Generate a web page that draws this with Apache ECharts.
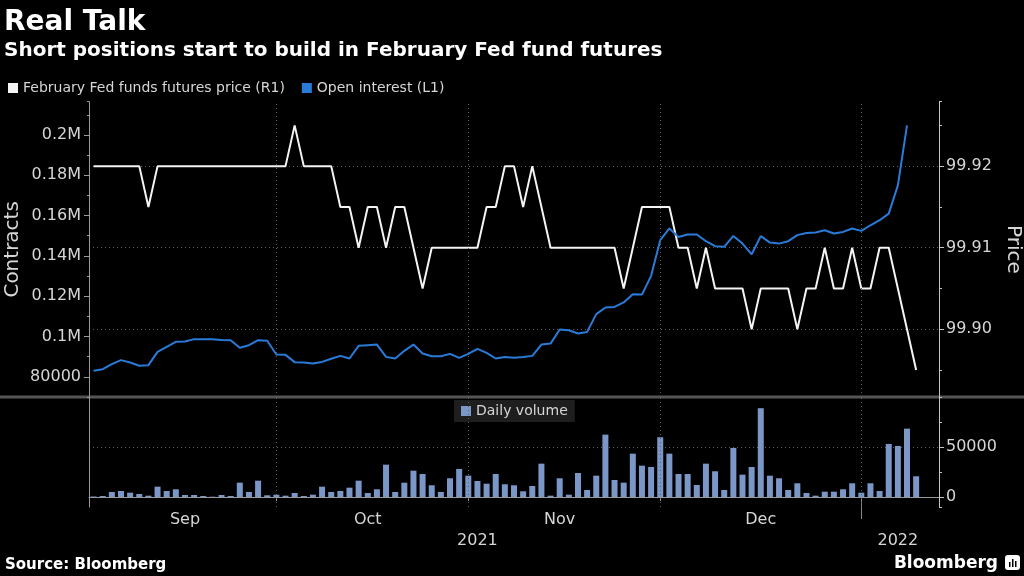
<!DOCTYPE html>
<html>
<head>
<meta charset="utf-8">
<script src="https://cdn.jsdelivr.net/npm/echarts@6/dist/echarts.min.js"></script>
<style>
html,body{margin:0;padding:0;background:#000;}
#chart{width:1024px;height:576px;}
</style>
</head>
<body>
<div id="chart"></div>
<script>
// ---- trading days (categories) ----
const sepDays = [2,3,7,8,9,10,13,14,15,16,17,20,21,22,23,24,27,28,29,30];
const octDays = [1,4,5,6,7,8,11,12,13,14,15,18,19,20,21,22,25,26,27,28,29];
const novDays = [1,2,3,4,5,8,9,10,11,12,15,16,17,18,19,22,23,24,26,29,30];
const decDays = [1,2,3,6,7,8,9,10,13,14,15,16,17,20,21,22,23,27,28,29,30,31];
const janDays = [3,4,5,6,7,10,11,12,13];

// ---- series values ----
const priceValues = [
  99.92,99.92,99.92,99.92,99.92,99.92,99.915,99.92,99.92,99.92,
  99.92,99.92,99.92,99.92,99.92,99.92,99.92,99.92,99.92,99.92,
  99.92,99.92,99.925,99.92,99.92,99.92,99.92,99.915,99.915,99.91,
  99.915,99.915,99.91,99.915,99.915,99.91,99.905,99.91,99.91,99.91,
  99.91,99.91,99.91,99.915,99.915,99.92,99.92,99.915,99.92,99.915,
  99.91,99.91,99.91,99.91,99.91,99.91,99.91,99.91,99.905,99.91,
  99.915,99.915,99.915,99.915,99.91,99.91,99.905,99.91,99.905,99.905,
  99.905,99.905,99.90,99.905,99.905,99.905,99.905,99.90,99.905,99.905,
  99.91,99.905,99.905,99.91,99.905,99.905,99.91,99.91,99.905,99.90,
  99.895
];
const openInterest = [
  83000,83800,86300,88300,87100,85500,85800,92400,94900,97400,
  97500,98700,98700,98700,98300,98200,94400,95700,98200,97900,
  91100,90900,87300,87100,86600,87400,89000,90400,89100,95400,
  95700,96000,89900,89100,92900,96000,91600,90200,90200,91400,
  89400,91400,93900,91900,89100,89800,89500,89900,90400,96000,
  96500,103500,103100,101500,102300,111100,114400,114700,116900,121000,
  120800,130100,147800,153600,149400,150600,150600,147300,144800,144500,
  149900,146100,140800,149800,146600,146100,147300,150300,151400,151600,
  152700,151100,151900,153600,152400,155200,157700,161000,175000,204800
];
const dailyVolume = [
  500,1000,5000,6000,4300,3000,1300,10300,6000,7700,
  2000,2000,1000,300,2000,1000,14300,5000,16300,1700,
  2300,1300,4000,1000,2300,10300,5000,6000,9300,16300,
  4000,7700,32300,5000,14300,26300,23000,11700,5000,18700,
  28000,21300,16000,13300,23000,12700,11700,5700,11000,33300,
  1300,18700,2300,24000,7000,21300,62300,17000,14300,43300,
  31300,30000,59700,43300,23000,23000,12000,33300,25700,7000,
  49000,22300,30000,88700,21300,18700,7000,13700,4000,1300,
  5300,5300,7700,13700,4300,13700,6000,53000,51000,68300,
  20700
];

// ---- tick labels ----
const monthNames = ['Sep','Oct','Nov','Dec'];
const monthLabelAt = ['2021-09-17','2021-10-15','2021-11-15','2021-12-16'];
const monthStarts = ['2021-10-01','2021-11-01','2021-12-01','2022-01-03'];
const yearNames = ['2021','2022'];
const yearLabelAt = ['2021-11-02','2022-01-07'];
const yearBreak = ['2022-01-03'];

const seriesNames = ['February Fed funds futures price (R1)','Open interest (L1)','Daily volume'];

const pad = d => (d < 10 ? '0' : '') + d;
const categories = [].concat(
  sepDays.map(d => '2021-09-' + pad(d)),
  octDays.map(d => '2021-10-' + pad(d)),
  novDays.map(d => '2021-11-' + pad(d)),
  decDays.map(d => '2021-12-' + pad(d)),
  janDays.map(d => '2022-01-' + pad(d))
);

const FONT = 'DejaVu Sans';
const LBL = '#d6d6d6';
const AXIS = '#9a9a9a';
const GRIDC = '#5e5e5e';
const dotted = {type: [1, 3], color: GRIDC, width: 1};

const chart = echarts.init(document.getElementById('chart'));

const vLines = {
  silent: true, symbol: ['none','none'], label: {show: false},
  lineStyle: dotted, animation: false,
  data: monthStarts.map(d => ({xAxis: d}))
};

chart.setOption({
  backgroundColor: '#000',
  animation: false,
  textStyle: {fontFamily: FONT},
  title: [
    {text: 'Real Talk', left: 4, top: 9, padding: 0,
     textStyle: {color: '#fff', fontSize: 28, fontWeight: 'bold', fontFamily: FONT}},
    {text: 'Short positions start to build in February Fed fund futures', left: 4, top: 41, padding: 0,
     textStyle: {color: '#fff', fontSize: 20, fontWeight: 'bold', fontFamily: FONT}},
    {text: 'Source: Bloomberg', left: 5, top: 558, padding: 0,
     textStyle: {color: '#fff', fontSize: 15, fontWeight: 'bold', fontFamily: FONT}},
    {text: 'Bloomberg', right: 26, top: 555, padding: 0,
     textStyle: {color: '#fff', fontSize: 17, fontWeight: 'bold', fontFamily: FONT}}
  ],
  legend: [
    {data: [seriesNames[0], seriesNames[1]], left: 8, top: 81, padding: 0,
     icon: 'rect', itemWidth: 10, itemHeight: 10, itemGap: 17,
     textStyle: {color: LBL, fontSize: 14, fontFamily: FONT}},
    {data: [seriesNames[2]], left: 454, top: 400, padding: [4, 7, 4, 7],
     backgroundColor: '#1e1e1e',
     icon: 'rect', itemWidth: 10, itemHeight: 10,
     textStyle: {color: LBL, fontSize: 14, fontFamily: FONT}}
  ],
  grid: [
    {left: 89, right: 85, top: 101.7, height: 295.3, containLabel: false, outerBoundsMode: 'none'},
    {left: 89, right: 85, top: 397, height: 110, containLabel: false, outerBoundsMode: 'none'}
  ],
  xAxis: [
    {type: 'category', gridIndex: 0, data: categories, boundaryGap: true, show: false},
    {type: 'category', gridIndex: 1, data: categories, boundaryGap: true,
     axisLine: {lineStyle: {color: AXIS, width: 1}},
     axisTick: {show: true, alignWithLabel: true, length: 4, lineStyle: {color: AXIS},
                interval: (i, v) => monthStarts.indexOf(v) >= 0},
     axisLabel: {interval: (i, v) => monthLabelAt.indexOf(v) >= 0,
                 formatter: v => { const k = monthLabelAt.indexOf(v); return k >= 0 ? monthNames[k] : ''; },
                 color: LBL, fontSize: 16, fontFamily: FONT, margin: 5},
     splitLine: {show: false}},
    {type: 'category', gridIndex: 1, data: categories, boundaryGap: true, position: 'bottom', offset: 23,
     axisLine: {show: false},
     axisTick: {show: true, alignWithLabel: true, length: 22, lineStyle: {color: '#888'},
                interval: (i, v) => yearBreak.indexOf(v) >= 0},
     axisLabel: {interval: (i, v) => yearLabelAt.indexOf(v) >= 0,
                 formatter: v => { const k = yearLabelAt.indexOf(v); return k >= 0 ? yearNames[k] : ''; },
                 color: LBL, fontSize: 16, fontFamily: FONT, margin: 3},
     splitLine: {show: false}}
  ],
  yAxis: [
    {type: 'value', gridIndex: 0, position: 'left', min: 70000, max: 216500,
     minInterval: 20000, maxInterval: 20000,
     name: 'Contracts', nameLocation: 'middle', nameGap: 66, nameRotate: 90, nameMoveOverlap: false,
     nameTextStyle: {color: LBL, fontSize: 20, fontFamily: FONT},
     axisLine: {show: true, lineStyle: {color: AXIS}},
     axisTick: {show: true, length: 5, lineStyle: {color: AXIS}},
     axisLabel: {color: LBL, fontSize: 16, fontFamily: FONT, margin: 8, showMinLabel: false, showMaxLabel: false,
                 formatter: v => { v = Math.round(v); if (v % 20000 !== 0) return ''; return v >= 100000 ? (v / 1e6) + 'M' : String(v); }},
     splitLine: {show: false}},
    {type: 'value', gridIndex: 0, position: 'left', min: 70000, max: 216500, interval: 10000,
     axisLine: {show: false}, axisTick: {show: true, length: 2, lineStyle: {color: AXIS}},
     axisLabel: {show: false}, splitLine: {show: false}},
    {type: 'value', gridIndex: 0, position: 'right', min: 99.8917, max: 99.9279,
     minInterval: 0.01, maxInterval: 0.01,
     name: 'Price', nameLocation: 'middle', nameGap: 60, nameRotate: -90,
     nameTextStyle: {color: LBL, fontSize: 20, fontFamily: FONT},
     axisLine: {show: true, lineStyle: {color: '#c4c4c4'}},
     axisTick: {show: true, length: 5, lineStyle: {color: '#c4c4c4'}},
     axisLabel: {color: LBL, fontSize: 16, fontFamily: FONT, margin: 7, showMinLabel: false, showMaxLabel: false,
                 formatter: v => v.toFixed(2)},
     splitLine: {show: true, showMinLine: false, showMaxLine: false, lineStyle: dotted}},
    {type: 'value', gridIndex: 0, position: 'right', min: 99.8917, max: 99.9279,
     minInterval: 0.005, maxInterval: 0.005,
     axisLine: {show: false}, axisTick: {show: true, length: 3, lineStyle: {color: '#c4c4c4'}},
     axisLabel: {show: false}, splitLine: {show: false}},
    {type: 'value', gridIndex: 1, position: 'right', min: -10000, max: 99900,
     minInterval: 50000, maxInterval: 50000,
     axisLine: {show: true, lineStyle: {color: '#c4c4c4'}},
     axisTick: {show: true, length: 5, lineStyle: {color: '#c4c4c4'}},
     axisLabel: {color: LBL, fontSize: 16, fontFamily: FONT, margin: 7, showMinLabel: false, showMaxLabel: false,
                 formatter: v => String(Math.round(v))},
     splitLine: {show: true, showMinLine: false, showMaxLine: false, lineStyle: dotted}},
    {type: 'value', gridIndex: 1, position: 'right', min: -10000, max: 99900,
     minInterval: 25000, maxInterval: 25000,
     axisLine: {show: false}, axisTick: {show: true, length: 3, lineStyle: {color: '#c4c4c4'}},
     axisLabel: {show: false}, splitLine: {show: false}},
    {type: 'value', gridIndex: 1, position: 'left', min: -10000, max: 99900,
     axisLine: {show: true, lineStyle: {color: AXIS}}, axisTick: {show: false},
     axisLabel: {show: false}, splitLine: {show: false}}
  ],
  series: [
    {name: seriesNames[0], type: 'line', xAxisIndex: 0, yAxisIndex: 2, data: priceValues,
     symbol: 'none', lineStyle: {color: '#f4f4f4', width: 2}, itemStyle: {color: '#f4f4f4'},
     markLine: vLines},
    {name: seriesNames[1], type: 'line', xAxisIndex: 0, yAxisIndex: 0, data: openInterest,
     symbol: 'none', lineStyle: {color: '#2a7bd8', width: 2}, itemStyle: {color: '#2a7bd8'}},
    {name: seriesNames[2], type: 'bar', xAxisIndex: 1, yAxisIndex: 4, data: dailyVolume,
     barWidth: 6, itemStyle: {color: '#7a97c8'}, markLine: vLines}
  ],
  graphic: [
    {type: 'line', shape: {x1: 0, y1: 397, x2: 1024, y2: 397}, style: {stroke: '#555', lineWidth: 3}, z: 0},
    {type: 'group', left: 1005, top: 555, children: [
      {type: 'rect', shape: {x: 0, y: 0, width: 15, height: 15, r: 3}, style: {fill: '#fff'}},
      {type: 'rect', shape: {x: 4, y: 7, width: 1.5, height: 5}, style: {fill: '#000'}},
      {type: 'rect', shape: {x: 7, y: 4, width: 1.5, height: 8}, style: {fill: '#000'}},
      {type: 'rect', shape: {x: 10, y: 6, width: 1.5, height: 6}, style: {fill: '#000'}}
    ]}
  ]
});
</script>
</body>
</html>
